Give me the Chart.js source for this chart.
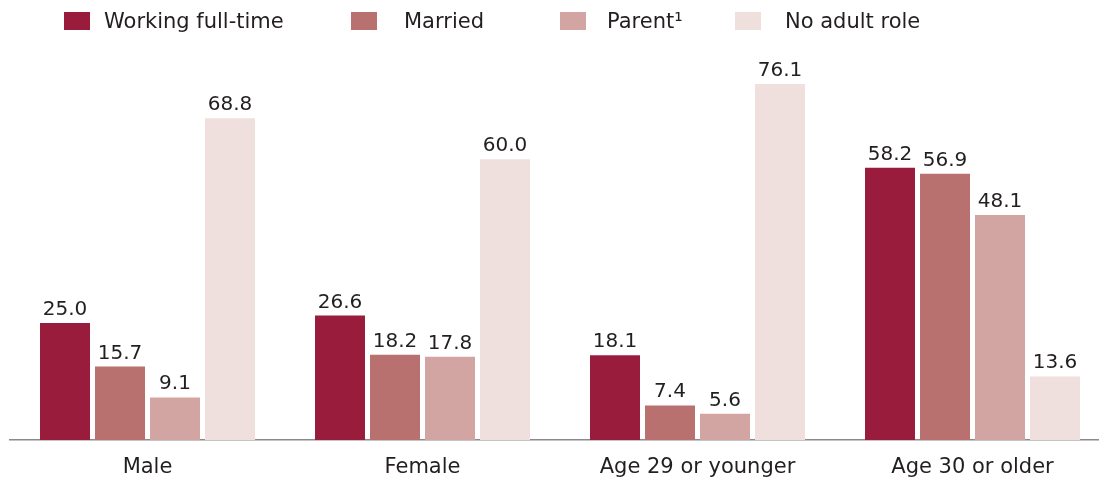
<!DOCTYPE html>
<html>
<head>
<meta charset="utf-8">
<script src="https://cdn.jsdelivr.net/npm/chart.js@4"></script>
<style>
  html, body { margin: 0; padding: 0; background: #fff; overflow: hidden; }
  #wrap { position: relative; width: 1110px; height: 479px; }
  #chart { position: absolute; left: 0; top: 0; }
  .lg { position: absolute; top: 8px; height: 26px; display: flex; align-items: center;
        font-family: "DejaVu Sans", sans-serif; font-size: 21px; color: #231f20; white-space: nowrap; }
  .lg i { display: inline-block; width: 26px; height: 18px; }
</style>
</head>
<body>
<div id="wrap">
  <canvas id="chart" width="1110" height="479"></canvas>
</div>
<script>
// Percent of each group holding each adult role
var categories = ['Male', 'Female', 'Age 29 or younger', 'Age 30 or older'];
var seriesNames = ['Working full-time', 'Married', 'Parent\u00B9', 'No adult role'];
var workingFullTime = [25.0, 26.6, 18.1, 58.2];
var married = [15.7, 18.2, 7.4, 56.9];
var parent = [9.1, 17.8, 5.6, 48.1];
var noAdultRole = [68.8, 60.0, 76.1, 13.6];

var colors = ['#991c3d', '#b97170', '#d3a5a2', '#efe0de'];
var seriesData = [workingFullTime, married, parent, noAdultRole];

// legend (HTML, spaced like the original)
var legendBoxX = [64, 351, 560, 735];
var legendGap = [14, 27, 21, 24];
var wrap = document.getElementById('wrap');
seriesNames.forEach(function (name, i) {
  var d = document.createElement('div');
  d.className = 'lg';
  d.style.left = legendBoxX[i] + 'px';
  d.innerHTML = '<i style="background:' + colors[i] + ';margin-right:' + legendGap[i] + 'px"></i>' + name;
  wrap.appendChild(d);
});

// value labels above each bar
var valueLabels = {
  id: 'valueLabels',
  afterDatasetsDraw: function (chart) {
    var ctx = chart.ctx;
    ctx.save();
    ctx.font = '20px "DejaVu Sans", sans-serif';
    ctx.fillStyle = '#231f20';
    ctx.textAlign = 'center';
    ctx.textBaseline = 'alphabetic';
    chart.data.datasets.forEach(function (ds, i) {
      chart.getDatasetMeta(i).data.forEach(function (bar, j) {
        ctx.fillText(ds.data[j].toFixed(1), bar.x, bar.y - 8);
      });
    });
    ctx.restore();
  }
};

new Chart(document.getElementById('chart'), {
  type: 'bar',
  data: {
    labels: categories,
    datasets: seriesNames.map(function (n, i) {
      return {
        label: n,
        data: seriesData[i],
        backgroundColor: colors[i],
        borderWidth: 0,
        categoryPercentage: 0.8,
        barPercentage: 0.909
      };
    })
  },
  options: {
    responsive: false,
    animation: false,
    layout: { padding: { left: 10, right: 0, top: 19, bottom: 0 } },
    plugins: { legend: { display: false }, tooltip: { enabled: false } },
    scales: {
      x: {
        grid: { display: false },
        border: { display: true, color: '#8a8a8a', width: 1.5 },
        ticks: {
          color: '#231f20',
          padding: 7,
          font: { family: '"DejaVu Sans", sans-serif', size: 21 }
        },
        afterFit: function (scale) { scale.height = 39; }
      },
      y: {
        display: false,
        min: 0,
        max: 90
      }
    }
  },
  plugins: [valueLabels]
});
</script>
</body>
</html>
